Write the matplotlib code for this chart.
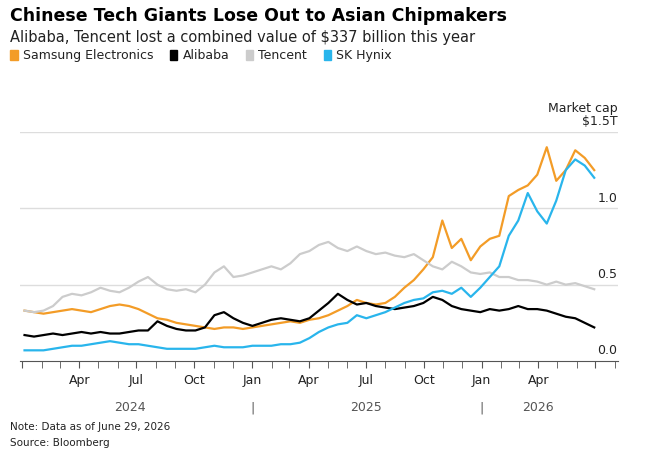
import numpy as np
import pandas as pd
import matplotlib.pyplot as plt
import matplotlib.dates as mdates

# semi-monthly reads, Jan 2024 .. late Jun 2026
dates = pd.date_range("2024-01-05", "2026-06-29", periods=61)

samsung = [0.33, 0.32, 0.31, 0.32, 0.33, 0.34, 0.33, 0.32, 0.34, 0.36, 0.37, 0.36, 0.34,
           0.31, 0.28, 0.27, 0.25, 0.24, 0.23, 0.22, 0.21, 0.22, 0.22, 0.21, 0.22, 0.23,
           0.24, 0.25, 0.26, 0.25, 0.27, 0.28, 0.30, 0.33, 0.36, 0.40, 0.38, 0.37, 0.38,
           0.42, 0.48, 0.53, 0.60, 0.68, 0.92, 0.74, 0.80, 0.66, 0.75, 0.80, 0.82, 1.08,
           1.12, 1.15, 1.22, 1.40, 1.18, 1.25, 1.38, 1.33, 1.25]
alibaba = [0.17, 0.16, 0.17, 0.18, 0.17, 0.18, 0.19, 0.18, 0.19, 0.18, 0.18, 0.19, 0.20,
           0.20, 0.26, 0.23, 0.21, 0.20, 0.20, 0.22, 0.30, 0.32, 0.28, 0.25, 0.23, 0.25,
           0.27, 0.28, 0.27, 0.26, 0.28, 0.33, 0.38, 0.44, 0.40, 0.37, 0.38, 0.36, 0.35,
           0.34, 0.35, 0.36, 0.38, 0.42, 0.40, 0.36, 0.34, 0.33, 0.32, 0.34, 0.33, 0.34,
           0.36, 0.34, 0.34, 0.33, 0.31, 0.29, 0.28, 0.25, 0.22]
tencent = [0.33, 0.32, 0.33, 0.36, 0.42, 0.44, 0.43, 0.45, 0.48, 0.46, 0.45, 0.48, 0.52,
           0.55, 0.50, 0.47, 0.46, 0.47, 0.45, 0.50, 0.58, 0.62, 0.55, 0.56, 0.58, 0.60,
           0.62, 0.60, 0.64, 0.70, 0.72, 0.76, 0.78, 0.74, 0.72, 0.75, 0.72, 0.70, 0.71,
           0.69, 0.68, 0.70, 0.66, 0.62, 0.60, 0.65, 0.62, 0.58, 0.57, 0.58, 0.55, 0.55,
           0.53, 0.53, 0.52, 0.50, 0.52, 0.50, 0.51, 0.49, 0.47]
hynix = [0.07, 0.07, 0.07, 0.08, 0.09, 0.10, 0.10, 0.11, 0.12, 0.13, 0.12, 0.11, 0.11,
         0.10, 0.09, 0.08, 0.08, 0.08, 0.08, 0.09, 0.10, 0.09, 0.09, 0.09, 0.10, 0.10,
         0.10, 0.11, 0.11, 0.12, 0.15, 0.19, 0.22, 0.24, 0.25, 0.30, 0.28, 0.30, 0.32,
         0.35, 0.38, 0.40, 0.41, 0.45, 0.46, 0.44, 0.48, 0.42, 0.48, 0.55, 0.62, 0.82,
         0.92, 1.10, 0.98, 0.90, 1.05, 1.25, 1.32, 1.28, 1.20]

names = ["Samsung Electronics", "Alibaba", "Tencent", "SK Hynix"]
colors = ["#f39c27", "#000000", "#cccccc", "#29b5ec"]
series = [samsung, alibaba, tencent, hynix]
order = [2, 1, 3, 0]  # draw order: Tencent at back, Samsung on top

fig = plt.figure(figsize=(6.5, 4.6), dpi=100)
ax = fig.add_axes([0.03, 0.213, 0.92, 0.498])

for i in order:
    ax.plot(dates, series[i], color=colors[i], lw=1.6, zorder=3 + i)

ax.set_ylim(0, 1.5)
ax.set_xlim(pd.Timestamp("2023-12-28"), pd.Timestamp("2026-08-05"))
for v in [0.5, 1.0, 1.5]:
    ax.axhline(v, color="#dddddd", lw=1, zorder=1)
for v, lab in [(0.0, "0.0"), (0.5, "0.5"), (1.0, "1.0"), (1.5, "$1.5T")]:
    ax.text(1.0, v + 0.03, lab, transform=ax.get_yaxis_transform(), ha="right",
            va="bottom", fontsize=9, color="#222222")
ax.text(1.0, 1.62, "Market cap", transform=ax.get_yaxis_transform(), ha="right",
        va="bottom", fontsize=9, color="#222222")
ax.set_yticks([])
for s in ["top", "right", "left"]:
    ax.spines[s].set_visible(False)
ax.spines["bottom"].set_color("#555555")

ax.xaxis.set_major_locator(mdates.MonthLocator(bymonth=[1, 4, 7, 10]))
ax.xaxis.set_minor_locator(mdates.MonthLocator())
ax.tick_params(axis="x", which="both", length=5, color="#555555", labelsize=9,
               labelcolor="#222222")
fig.canvas.draw()
ticks = ax.get_xticks()
ax.set_xticks(ticks)
tick_labels = []
for t in ticks:
    d = mdates.num2date(t)
    if (d.year == 2024 and d.month == 1) or (d.year == 2026 and d.month > 6):
        tick_labels.append("")
    else:
        tick_labels.append(d.strftime("%b"))
ax.set_xticklabels(tick_labels)

trans = ax.get_xaxis_transform()
for yr, mid in [("2024", "2024-06-20"), ("2025", "2025-07-01"), ("2026", "2026-04-01")]:
    ax.text(pd.Timestamp(mid), -0.2, yr, transform=trans, ha="center", va="center",
            fontsize=9, color="#555555")
for jan in ["2025-01-01", "2026-01-01"]:
    ax.text(pd.Timestamp(jan), -0.2, "|", transform=trans, ha="center", va="center",
            fontsize=9, color="#555555")

fig.text(0.015, 0.985, "Chinese Tech Giants Lose Out to Asian Chipmakers",
         fontsize=12.5, fontweight="bold", va="top")
fig.text(0.015, 0.935, "Alibaba, Tencent lost a combined value of $337 billion this year",
         fontsize=10.5, color="#222222", va="top")
x = 0.015
for n, c in zip(names, colors):
    fig.patches.append(plt.Rectangle((x, 0.868), 0.012, 0.022, color=c,
                                     transform=fig.transFigure, figure=fig))
    t = fig.text(x + 0.02, 0.879, n, fontsize=9, va="center", color="#222222")
    fig.canvas.draw()
    bb = t.get_window_extent().transformed(fig.transFigure.inverted())
    x = bb.x1 + 0.025

fig.text(0.015, 0.065, "Note: Data as of June 29, 2026", fontsize=7.5, color="#222222")
fig.text(0.015, 0.03, "Source: Bloomberg", fontsize=7.5, color="#222222")

fig.savefig("out.png", dpi=100)
